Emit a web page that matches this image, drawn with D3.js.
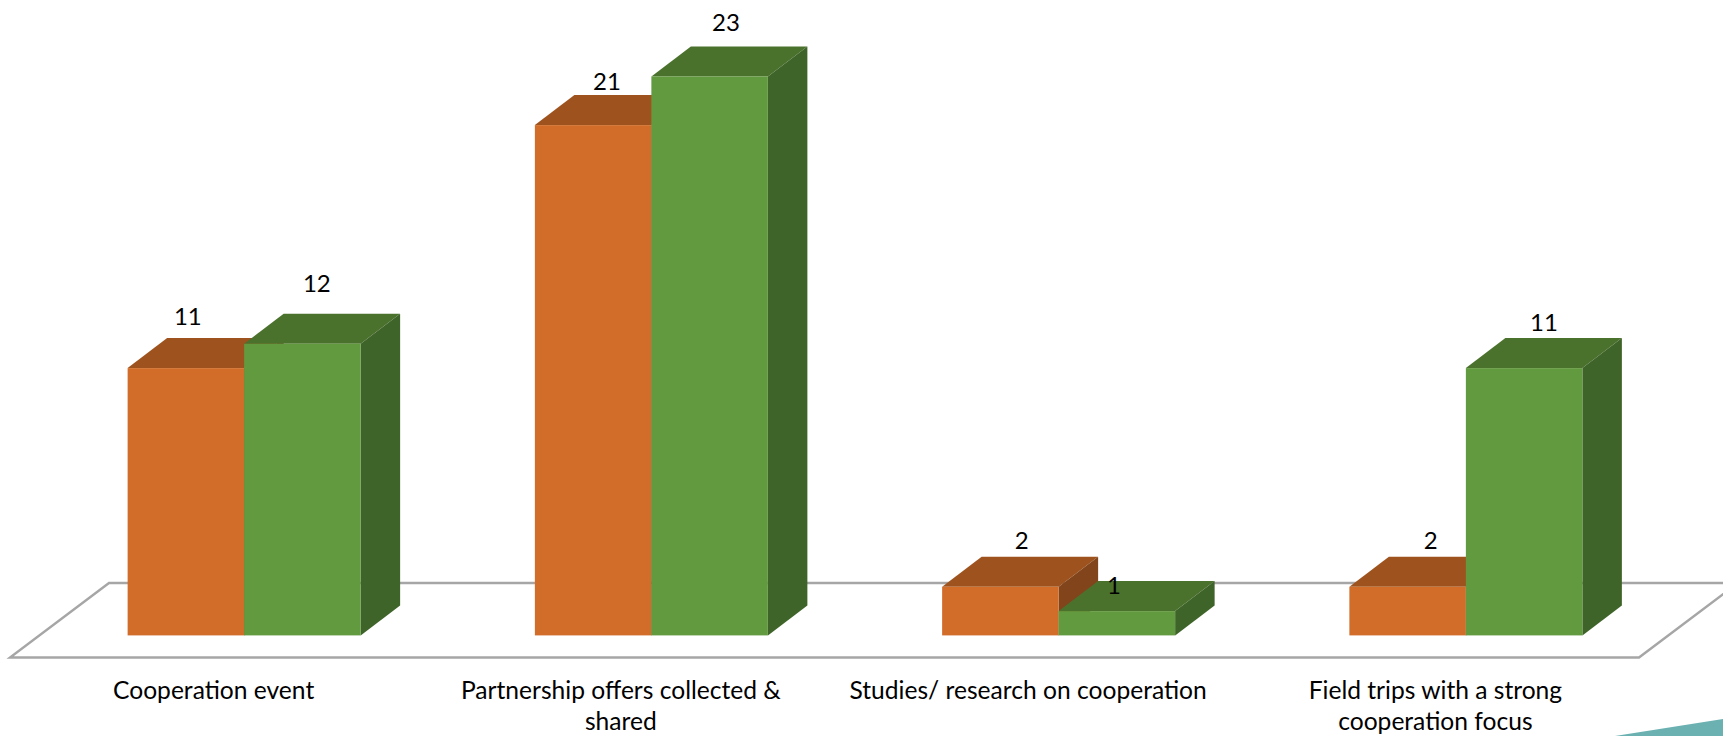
<!DOCTYPE html>
<html>
<head>
<meta charset="utf-8">
<script src="https://cdn.jsdelivr.net/npm/d3@7/dist/d3.min.js"></script>
<style>
  html, body { margin: 0; padding: 0; background: #fff; }
  svg { display: block; }
  text { font-family: Lato, "Open Sans", sans-serif; fill: #000; }
</style>
</head>
<body>
<div id="chart"></div>
<script>
const categories = [
  "Cooperation event",
  "Partnership offers collected & shared",
  "Studies/ research on cooperation",
  "Field trips with a strong cooperation focus"
];
const seriesNames = ["first", "second"];
const firstValues = [11, 21, 2, 2];
const secondValues = [12, 23, 1, 11];
const allValues = [firstValues, secondValues];

// hand placed label shifts, the original labels do not sit centred on the bars
const labelNudge = [
  [[2, 1.3], [14.5, -7.7]],
  [[13.9, 9.3], [16.4, -1.4]],
  [[21.3, 6.6], [-2.9, 27.3]],
  [[23.1, 6.6], [19.9, 7.3]]
];

const width = 1723, height = 736;
const floorLeft = 10, floorRight = 1639, floorFront = 657.5, floorBack = 583;
const floorDepthX = 99;
const baseY = 635.4;
const depthX = 39.5, depthY = 30;
const barShift = 30.5;
const barWidth = 116.5;

const colors = {
  first: { front: "#d16d29", top: "#9e531e", side: "#82441a" },
  second: { front: "#629a3f", top: "#4b722d", side: "#3f6429" }
};

const svg = d3.select("#chart").append("svg")
  .attr("width", width)
  .attr("height", height);

const x = d3.scaleBand().domain(categories).range([floorLeft, floorRight]);
const xInner = d3.scaleBand().domain(seriesNames).range([-barWidth, barWidth]);
const y = d3.scaleLinear().domain([0, 23]).range([baseY, baseY - 24.3 * 23]);

// decoration in the bottom right corner
svg.append("path")
  .attr("d", "M1615,736L1723,719L1723,736Z")
  .attr("fill", "#6bb1b2");

// floor
svg.append("path")
  .attr("d", `M${floorLeft},${floorFront}L${floorRight},${floorFront}L${floorRight + floorDepthX},${floorBack}L${floorLeft + floorDepthX},${floorBack}Z`)
  .attr("fill", "none")
  .attr("stroke", "#a6a6a6")
  .attr("stroke-width", 2.4);

const rows = categories.flatMap((c, i) => seriesNames.map((s, j) => ({
  category: c, series: s, value: allValues[j][i], nudge: labelNudge[i][j]
})));

const barLeft = d => x(d.category) + x.bandwidth() / 2 + barShift + xInner(d.series);

const bars = svg.append("g").selectAll("g")
  .data(rows)
  .join("g");

bars.append("path")
  .attr("fill", d => colors[d.series].top)
  .attr("d", d => {
    const l = barLeft(d), t = y(d.value);
    return `M${l},${t}L${l + barWidth},${t}L${l + barWidth + depthX},${t - depthY}L${l + depthX},${t - depthY}Z`;
  });

bars.append("path")
  .attr("fill", d => colors[d.series].side)
  .attr("d", d => {
    const r = barLeft(d) + barWidth, t = y(d.value);
    return `M${r},${t}L${r + depthX},${t - depthY}L${r + depthX},${baseY - depthY}L${r},${baseY}Z`;
  });

bars.append("rect")
  .attr("fill", d => colors[d.series].front)
  .attr("x", barLeft)
  .attr("y", d => y(d.value))
  .attr("width", barWidth)
  .attr("height", d => baseY - y(d.value));

// value labels on top of every bar
svg.append("g").selectAll("text")
  .data(rows)
  .join("text")
  .attr("text-anchor", "middle")
  .attr("font-size", 24)
  .attr("x", d => barLeft(d) + barWidth / 2 + d.nudge[0])
  .attr("y", d => y(d.value) - depthY - 14 + d.nudge[1])
  .text(d => d.value);

// category axis
const axis = svg.append("g")
  .attr("transform", `translate(0,${floorFront})`)
  .call(d3.axisBottom(x).tickSize(0).tickPadding(0));
axis.select(".domain").remove();
axis.selectAll("text")
  .attr("font-size", 24.6)
  .attr("dy", null)
  .attr("y", 41.5)
  .call(wrap, 372);
axis.attr("font-family", null).attr("font-size", null);

function wrap(selection, maxWidth) {
  selection.each(function() {
    const label = d3.select(this);
    const words = label.text().split(" ");
    label.text(null);
    let line = [];
    let span = label.append("tspan").attr("x", 0).attr("dy", 0);
    words.forEach(w => {
      line.push(w);
      span.text(line.join(" "));
      if (span.node().getComputedTextLength() > maxWidth && line.length > 1) {
        line.pop();
        span.text(line.join(" "));
        line = [w];
        span = label.append("tspan").attr("x", 0).attr("dy", 31).text(w);
      }
    });
  });
}
</script>
</body>
</html>
